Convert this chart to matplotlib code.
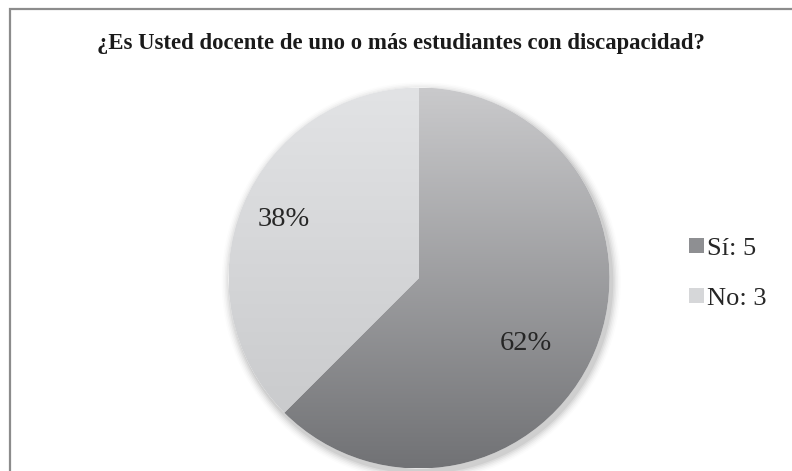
import numpy as np
import matplotlib
matplotlib.use("Agg")
import matplotlib.pyplot as plt
from matplotlib.patches import Rectangle, Circle, Patch

categories = ["Sí", "No"]
values = [5, 3]
title = "¿Es Usted docente de uno o más estudiantes con discapacidad?"

# gradient colours (top, bottom) per wedge
grad_top = ["#cacacc", "#e2e3e5"]
grad_bot = ["#717275", "#c6c7c9"]
pct_dist = [0.66, 0.775]
pct_angle_off = [-9, -1]

W, H = 792, 471
fig = plt.figure(figsize=(W / 100, H / 100), dpi=100)
fig.patch.set_facecolor("white")

# outer border (right and bottom run off the image)
fig.add_artist(Rectangle((9.5 / W, -0.1), 1.2, (H - 8.5) / H + 0.1,
                         transform=fig.transFigure, fill=False,
                         edgecolor="#8c8c8c", linewidth=1.6))

cx, cy, r = 419, 278, 190.5
ax = fig.add_axes([(cx - r) / W, (H - cy - r) / H, 2 * r / W, 2 * r / H])
ax.set_axis_off()

# soft shadow
for i, a in enumerate(np.linspace(0.05, 0.012, 6)):
    ax.add_patch(Circle((0.012, -0.02), 1.0 + 0.008 * (i + 1), color="#000000",
                        alpha=a, lw=0, zorder=0, clip_on=False))

wedges, _ = ax.pie(values, startangle=90, counterclock=False, radius=1.0,
                   wedgeprops=dict(linewidth=0))
total = sum(values)
for i, w in enumerate(wedges):
    w.set_facecolor("white")
    w.set_zorder(1)
    w.set_clip_on(False)
    t = np.linspace(0, 1, 256)[:, None]
    c0 = np.array(matplotlib.colors.to_rgb(grad_top[i]))
    c1 = np.array(matplotlib.colors.to_rgb(grad_bot[i]))
    img = (c0[None, None, :] * (1 - t[:, :, None]) + c1[None, None, :] * t[:, :, None])
    img = np.repeat(img, 2, axis=1)
    im = ax.imshow(img, extent=(-1, 1, -1, 1), origin="upper", aspect="auto", zorder=2)
    im.set_clip_path(w)
    theta = np.deg2rad((w.theta1 + w.theta2) / 2 + pct_angle_off[i])
    ax.text(pct_dist[i] * np.cos(theta), pct_dist[i] * np.sin(theta),
            f"{round(100 * values[i] / total)}%", ha="center", va="center",
            fontsize=20.5, family="Liberation Serif", color="#262626", zorder=3)

ax.set_xlim(-1, 1)
ax.set_ylim(-1, 1)
ax.set_aspect("auto")

fig.text(401 / W, 1 - 44 / H, title, ha="center", va="center",
         fontsize=16.4, fontweight="bold", family="Liberation Serif", color="#1a1a1a")

mid_cols = ["#8e8f92", "#d6d7d9"]
handles = [Patch(facecolor=mid_cols[i], edgecolor="none") for i in range(len(values))]
labels = [f"{c}: {v}" for c, v in zip(categories, values)]
fig.legend(handles, labels, loc="center left", bbox_to_anchor=(678 / W, 1 - 274 / H),
           frameon=False, prop=dict(family="Liberation Serif", size=19),
           handlelength=0.57, handleheight=0.5, handletextpad=0.12,
           labelspacing=1.05, labelcolor="#262626", borderaxespad=0)

fig.savefig("out.png", dpi=100, facecolor="white")
